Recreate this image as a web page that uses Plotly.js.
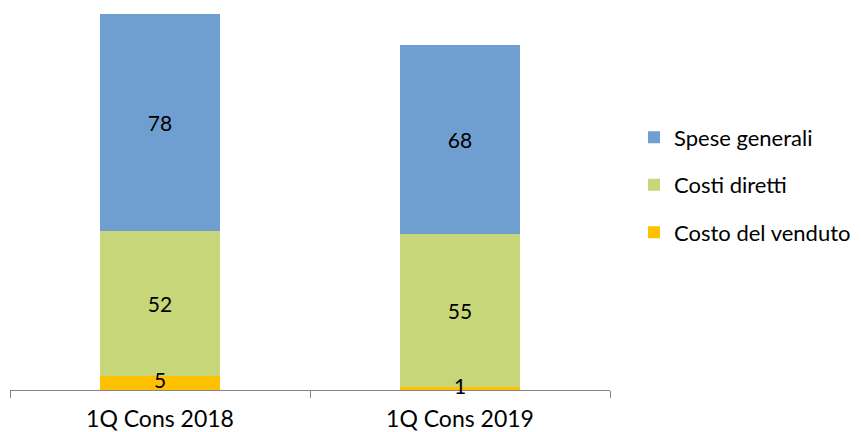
<!DOCTYPE html>
<html><head><meta charset="utf-8">
<script src="https://cdn.plot.ly/plotly-3.0.1.min.js"></script>
<style>html,body{margin:0;padding:0;background:#fff}#c{width:861px;height:432px}</style>
</head><body><div id="c"></div>
<script>
const categories = ["1Q Cons 2018", "1Q Cons 2019"];
const costoVenduto = [5, 1];
const costiDiretti = [52, 55];
const speseGenerali = [78, 68];
const seriesNames = ["Costo del venduto", "Costi diretti", "Spese generali"];
const colors = ["#FFC000", "#C6D678", "#6F9FD0"];
const FONT = "Lato, 'Open Sans', sans-serif";
const vals = [costoVenduto, costiDiretti, speseGenerali];
const traces = vals.map((v, i) => ({
  type: "bar", x: categories, y: v, name: seriesNames[i],
  marker: {color: colors[i]}, legendgroup: "g" + i, legendrank: 1000 - i,
  text: i === 0 ? null : v.map(String), textposition: i === 0 ? "none" : "inside", insidetextanchor: "middle",
  textangle: 0, constraintext: "none", cliponaxis: false,
  textfont: {family: FONT, size: 21, color: "#000"},
  hoverinfo: "none"
}));
// labels of the thin bottom segment, placed at the segment centre, drawn unclipped
traces.push({
  type: "scatter", mode: "text", x: categories, y: costoVenduto.map(v => v / 2),
  text: costoVenduto.map(String), textposition: "middle center", cliponaxis: false,
  textfont: {family: FONT, size: 21, color: "#000"}, showlegend: false, hoverinfo: "none"
});
Plotly.newPlot("c", traces, {
  width: 861, height: 432, barmode: "stack", bargap: 0.597,
  margin: {l: 10, r: 251, t: 0, b: 42},
  paper_bgcolor: "#fff", plot_bgcolor: "#fff",
  font: {family: FONT, size: 21, color: "#000"},
  xaxis: {showline: true, linecolor: "#868686", linewidth: 1, ticks: "outside", tickson: "boundaries",
          ticklen: 7, tickcolor: "#868686", ticklabelstandoff: 8, layer: "below traces",
          tickfont: {family: FONT, size: 23, color: "#000"}, showgrid: false, fixedrange: true},
  yaxis: {range: [0, 140], visible: false, showgrid: false, zeroline: false, fixedrange: true},
  showlegend: true,
  legend: {x: 1.04, y: 0.526, yanchor: "middle", xanchor: "left", traceorder: "grouped", tracegroupgap: 16,
           font: {family: FONT, size: 22, color: "#000"}}
}, {displayModeBar: false, staticPlot: true});
</script></body></html>
